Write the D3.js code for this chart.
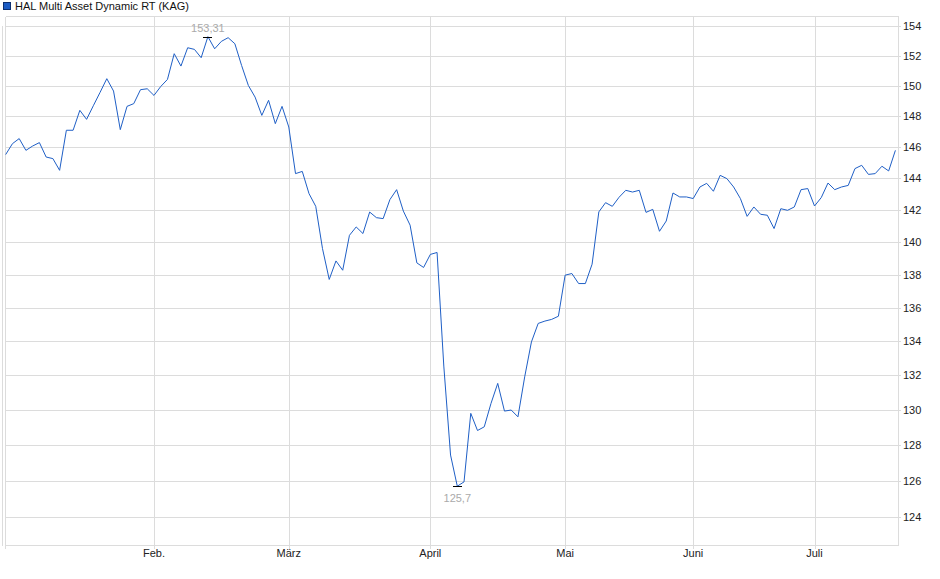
<!DOCTYPE html>
<html lang="de">
<head>
  <meta charset="UTF-8">
  <title>HAL Multi Asset Dynamic RT (KAG)</title>
  <script src="https://d3js.org/d3.v7.min.js"></script>
  <style>
    body {
      margin: 0;
      background: #fff;
      font-family: "Liberation Sans", Arial, sans-serif;
    }
    svg text {
      font-size: 11px;
    }
    .grid line {
      stroke: #dcdcdc;
      shape-rendering: crispEdges;
    }
    .tick-label {
      fill: #222;
    }
    .extreme {
      fill: #aaaaaa;
    }
  </style>
</head>
<body>
  <svg id="chart" width="940" height="579"></svg>

  <script>
    const seriesName = "HAL Multi Asset Dynamic RT (KAG)";

    // one value per trading day, Jan .. Jul
    const prices = [
      145.53, 146.23, 146.56, 145.80, 146.08, 146.30, 145.37, 145.27, 144.52, 147.10,
      147.10, 148.40, 147.81, 148.70, 149.58, 150.49, 149.67, 147.14, 148.66, 148.84,
      149.76, 149.82, 149.38, 149.97, 150.44, 152.16, 151.33, 152.56, 152.45, 151.89,
      153.31, 152.49, 152.99, 153.24, 152.83, 151.37, 150.04, 149.27, 148.07, 149.06,
      147.53, 148.66, 147.31, 144.31, 144.45, 143.04, 142.24, 139.61, 137.72, 138.85,
      138.28, 140.43, 140.95, 140.54, 141.88, 141.53, 141.47, 142.66, 143.29, 141.94,
      141.06, 138.73, 138.45, 139.25, 139.37, 132.55, 127.44, 125.70, 125.94, 129.81,
      128.83, 129.04, 130.38, 131.54, 129.94, 130.00, 129.61, 131.92, 133.97, 135.07,
      135.21, 135.31, 135.50, 137.98, 138.08, 137.47, 137.47, 138.65, 141.89, 142.47,
      142.24, 142.81, 143.25, 143.14, 143.25, 141.86, 142.05, 140.68, 141.32, 143.08,
      142.83, 142.83, 142.73, 143.46, 143.69, 143.19, 144.20, 143.99, 143.46, 142.73,
      141.61, 142.20, 141.74, 141.68, 140.85, 142.09, 141.99, 142.20, 143.29, 143.36,
      142.26, 142.79, 143.71, 143.29, 143.46, 143.56, 144.63, 144.84, 144.26, 144.31,
      144.78, 144.48, 145.80
    ];

    const monthIndex = [22, 42, 63, 83, 102, 120];
    const monthLabels = ["Feb.", "März", "April", "Mai", "Juni", "Juli"];
    const yTicks = [124, 126, 128, 130, 132, 134, 136, 138, 140, 142, 144, 146, 148, 150, 152, 154];

    const plot = { left: 5.5, right: 898.5, top: 16.5, bottom: 545.5 };

    const svg = d3.select("#chart");

    const x = d3.scaleLinear()
      .domain([0, prices.length - 1])
      .range([5.7, 895.4]);

    const y = d3.scaleLog()
      .domain([122.45, 154.68])
      .range([plot.bottom, plot.top]);

    const fmt = v => String(v).replace(".", ",");

    // legend
    svg.append("rect")
      .attr("x", 3.5).attr("y", 2.5)
      .attr("width", 7).attr("height", 7)
      .attr("fill", "#1c5cc4")
      .attr("stroke", "#0d2f70");
    svg.append("text")
      .attr("x", 15).attr("y", 10)
      .attr("fill", "#111")
      .text(seriesName);

    // grid
    const grid = svg.append("g").attr("class", "grid");

    grid.selectAll(".hline")
      .data(yTicks)
      .join("line")
      .attr("x1", plot.left).attr("x2", plot.right + 2)
      .attr("y1", d => Math.round(y(d)) + 0.5)
      .attr("y2", d => Math.round(y(d)) + 0.5);

    grid.selectAll(".vline")
      .data(monthIndex)
      .join("line")
      .attr("x1", d => Math.round(x(d)) + 0.5)
      .attr("x2", d => Math.round(x(d)) + 0.5)
      .attr("y1", plot.top)
      .attr("y2", plot.bottom + 3);

    // frame
    grid.append("line")
      .attr("x1", plot.left).attr("x2", plot.right)
      .attr("y1", plot.top).attr("y2", plot.top);
    grid.append("line")
      .attr("x1", plot.left).attr("x2", plot.right)
      .attr("y1", plot.bottom).attr("y2", plot.bottom);
    grid.append("line")
      .attr("x1", plot.right).attr("x2", plot.right)
      .attr("y1", plot.top).attr("y2", plot.bottom);
    grid.append("line")
      .attr("x1", plot.left).attr("x2", plot.left)
      .attr("y1", plot.top).attr("y2", plot.bottom + 3);
    grid.append("line")
      .attr("x1", 2.5).attr("x2", 2.5)
      .attr("y1", y(154)).attr("y2", plot.bottom);

    // y labels on the right
    svg.append("g")
      .selectAll("text")
      .data(yTicks)
      .join("text")
      .attr("class", "tick-label")
      .attr("x", 903)
      .attr("y", d => y(d) + 4)
      .text(d => d);

    // month labels
    svg.append("g")
      .selectAll("text")
      .data(monthIndex)
      .join("text")
      .attr("class", "tick-label")
      .attr("x", d => x(d))
      .attr("y", 557)
      .attr("text-anchor", "middle")
      .text((d, i) => monthLabels[i]);

    // price line
    const line = d3.line()
      .x((d, i) => x(i))
      .y(d => y(d));

    svg.append("path")
      .datum(prices)
      .attr("fill", "none")
      .attr("stroke", "#1f5fc6")
      .attr("stroke-width", 1)
      .attr("stroke-linejoin", "round")
      .attr("d", line);

    // high / low markers
    const hi = d3.maxIndex(prices);
    const lo = d3.minIndex(prices);

    [[hi, -1], [lo, 1]].forEach(([i, dir]) => {
      const cx = x(i), cy = Math.round(y(prices[i])) + 0.5;
      svg.append("line")
        .attr("x1", cx - 4.5).attr("x2", cx + 4.5)
        .attr("y1", cy).attr("y2", cy)
        .attr("stroke", "#000")
        .attr("stroke-width", 1)
        .attr("shape-rendering", "crispEdges");
      svg.append("text")
        .attr("class", "extreme")
        .attr("x", cx)
        .attr("y", dir < 0 ? cy - 5.5 : cy + 15)
        .attr("text-anchor", "middle")
        .text(fmt(prices[i]));
    });
  </script>
</body>
</html>
